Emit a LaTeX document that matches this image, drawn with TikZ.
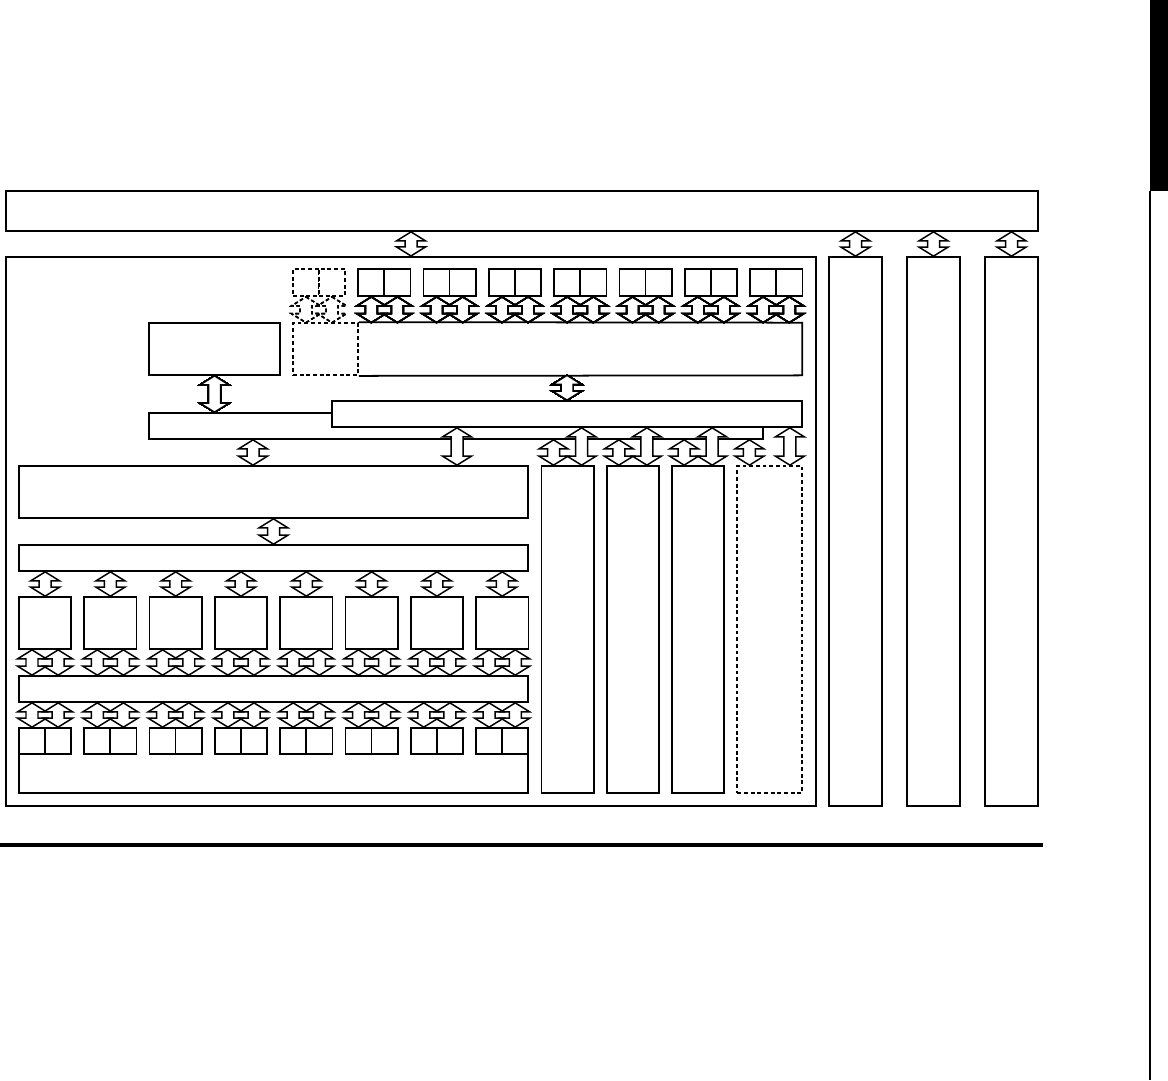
\documentclass[tikz,border=0pt]{standalone}
\usetikzlibrary{calc,fit}

% block double arrow between two points on one vertical
\newcommand{\ahw}{0.29cm}
\newcommand{\ahl}{0.18cm}
\newcommand{\asw}{0.12cm}
\newcommand{\biarrow}[3][]{%
  \path[blockarrow,#1] let \p1=#2, \p2=#3 in
    (\x1,\y1) -- (\x1+\ahw,\y1-\ahl) -- (\x1+\asw,\y1-\ahl)
    -- (\x1+\asw,\y2+\ahl) -- (\x1+\ahw,\y2+\ahl) -- (\x1,\y2)
    -- (\x1-\ahw,\y2+\ahl) -- (\x1-\asw,\y2+\ahl)
    -- (\x1-\asw,\y1-\ahl) -- (\x1-\ahw,\y1-\ahl) -- cycle;}

\begin{document}
\begin{tikzpicture}[x=0.02cm, y=-0.02cm,
  box/.style={draw, line width=1pt, fill=white, inner sep=0pt},
  dbox/.style={box, dash pattern=on 2.2pt off 1.6pt},
  blockarrow/.style={draw, line width=0.85pt, fill=white, line join=miter},
  hollow/.style={fill=none},
  dsh/.style={dash pattern=on 2pt off 1.5pt}
]
\useasboundingbox (0,0) rectangle (1168,1080);
\fill (1150,0) rectangle (1168,191);
\draw[line width=1pt] (1150,191) -- (1150,1080);
\draw[line width=2pt] (0,845) -- (1043,845);

% system bus, main block, outer columns
\node[box, fit={(6,191) (1038,231)}] (sysbus) {};
\node[box, line width=1.2pt, fit={(6,257) (816,806)}] (main) {};
\foreach \i/\x in {1/829, 2/907, 3/985}
  \node[box, fit={(\x,257) (\x+53,806)}] (ext\i) {};

% top pairs
\node[dbox, fit={(293,269) (319,296)}] (tpl0) {};
\node[dbox, fit={(319,269) (345,296)}] (tpr0) {};
\foreach \i in {1,...,7}{
  \pgfmathsetmacro\px{293+65.3*\i}
  \node[box, fit={(\px,269) (\px+26,296)}] (tpl\i) {};
  \node[box, fit={(\px+26,269) (\px+52.3,296)}] (tpr\i) {};
}

% wide unit with optional part
\node[inner sep=0pt, fit={(293,323) (802,375)}] (unit) {};
\node[dbox, fit={(293,323) (358,375)}] (unitx) {};
\draw[line width=1pt] (unitx.north east) -- (unit.north east) -- (unit.south east) -- (unitx.south east);
\node[box, fit={(149,323) (280,375)}] (ctrl) {};

% buses
\node[box, fit={(149,413) (763,439)}] (busa) {};
\node[box, fit={(332,401) (802,427)}] (busb) {};
\node[box, fit={(19,466) (528,518)}] (core) {};
\node[box, fit={(19,545) (528,571)}] (busc) {};
\node[box, fit={(19,676) (528,702)}] (busd) {};

% row of eight and bottom pairs
\foreach \i in {1,...,8}{
  \pgfmathsetmacro\px{19+65.3*(\i-1)}
  \node[box, fit={(\px,597) (\px+52.3,649)}] (pe\i) {};
  \node[box, fit={(\px,728) (\px+26,754)}] (bpl\i) {};
  \node[box, fit={(\px+26,728) (\px+52.3,754)}] (bpr\i) {};
}
\node[inner sep=0pt, fit={(19,728) (528,793)}] (mem) {};
\draw[line width=1.1pt] (mem.north west) -- (mem.south west) -- (mem.south east) -- (mem.north east);

% lanes
\foreach \i in {1,2,3}{
  \pgfmathsetmacro\px{541.4+65.3*(\i-1)}
  \node[box, fit={(\px,466) (\px+52.3,793)}] (lane\i) {};
}
\node[dbox, fit={(737.3,466) (802,793)}] (lane4) {};

% arrows
\biarrow{(sysbus.south -| main.north)}{(main.north)}
\foreach \i in {1,2,3} \biarrow{(sysbus.south -| ext\i.north)}{(ext\i.north)}
\foreach \s in {l,r} \biarrow[hollow, dsh]{(tp\s0.south)}{(tp\s0.south |- unit.north)}
\foreach \i in {1,...,7}
  \foreach \s in {l,r} \biarrow[hollow]{(tp\s\i.south)}{(tp\s\i.south |- unit.north)}
\biarrow{(ctrl.south)}{(ctrl.south |- busa.north)}
\biarrow{(unit.south -| busb.north)}{(busb.north)}
\coordinate (tapa) at (253,0);
\coordinate (tapb) at (457,0);
\biarrow{(busa.south -| tapa)}{(core.north -| tapa)}
\biarrow{(busb.south -| tapb)}{(core.north -| tapb)}
\biarrow{(core.south)}{(busc.north)}
\foreach \i in {1,...,8}{
  \biarrow{(busc.south -| pe\i.north)}{(pe\i.north)}
  \foreach \s in {l,r}{
    \biarrow[hollow]{(pe\i.south -| bp\s\i.north)}{(busd.north -| bp\s\i.north)}
    \biarrow[hollow]{(busd.south -| bp\s\i.north)}{(bp\s\i.north)}
  }
}
\foreach \i in {1,...,4}{
  \coordinate (ls\i) at ($(lane\i.north west)+(13,0)$);
  \coordinate (ll\i) at ($(lane\i.north east)+(-13,0)$);
  \biarrow{(busb.south -| ll\i)}{(ll\i)}
  \biarrow[hollow]{(busa.south -| ls\i)}{(ls\i)}
}
\end{tikzpicture}
\end{document}
